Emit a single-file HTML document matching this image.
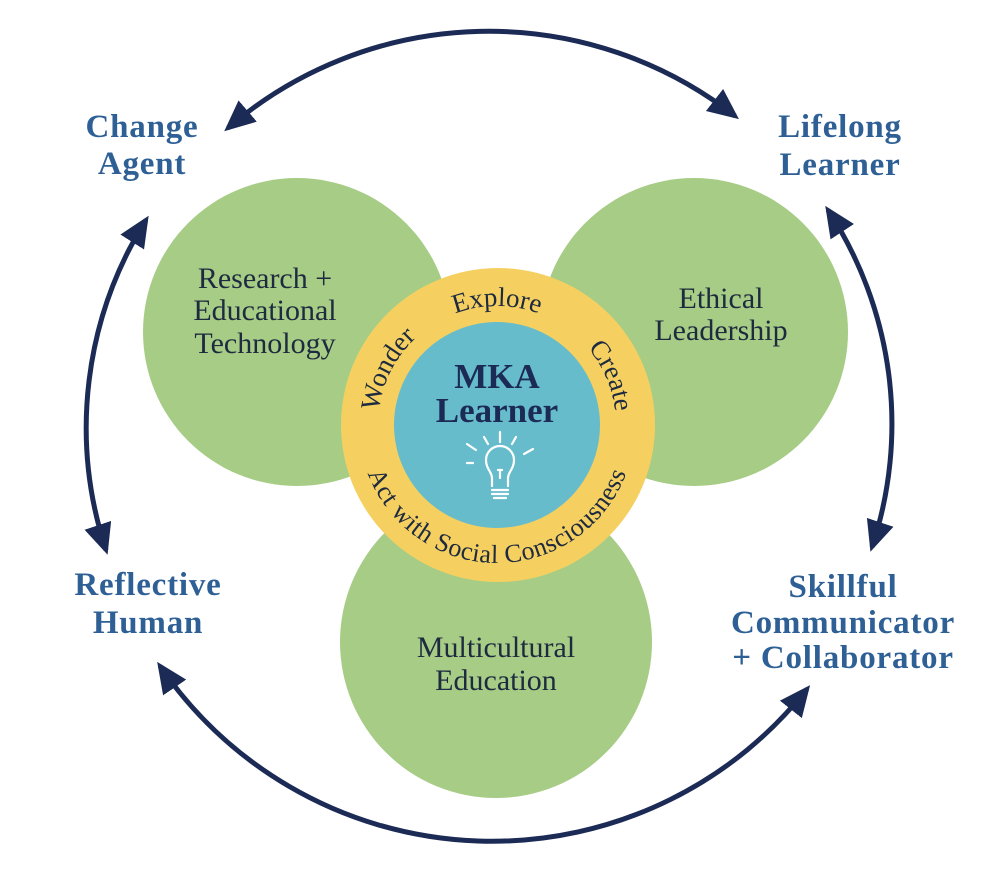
<!DOCTYPE html>
<html><head><meta charset="utf-8"><style>
html,body{margin:0;padding:0;background:#fff;}
svg{display:block;}
</style></head><body>
<svg width="988" height="870" viewBox="0 0 988 870" xmlns="http://www.w3.org/2000/svg">
<defs>
<marker id="ah" markerUnits="userSpaceOnUse" markerWidth="32" markerHeight="30" refX="26" refY="14" orient="auto-start-reverse">
<path d="M0,0 L31,14 L0,28 z" fill="#1c2b55"/>
</marker>
<path id="topP" d="M378,425 A119,119 0 1 1 616,425 A119,119 0 1 1 378,425"/>
<path id="botP" d="M359,425 A138,138 0 1 0 635,425 A138,138 0 1 0 359,425"/>
</defs>

<circle cx="297" cy="332" r="154" fill="#a7cc85"/>
<circle cx="694" cy="332" r="154" fill="#a7cc85"/>
<circle cx="496" cy="642" r="156" fill="#a7cc85"/>
<circle cx="498" cy="425" r="157" fill="#f5d060"/>
<circle cx="497" cy="425" r="103" fill="#67bccb"/>

<g fill="none" stroke="#1c2b55" stroke-width="5" marker-start="url(#ah)" marker-end="url(#ah)">
<path d="M228,128 A400,400 0 0 1 735,116"/>
<path d="M106,550 A390,390 0 0 1 146,220"/>
<path d="M828,210 A390,390 0 0 1 872,547"/>
<path d="M807,689 A402,402 0 0 1 160,666"/>
</g>

<g font-family="Liberation Serif, serif" font-weight="bold" font-size="33" fill="#2e6096" text-anchor="middle" letter-spacing="0.8">
<text x="142" y="137">Change</text>
<text x="142" y="174">Agent</text>
<text x="840" y="137">Lifelong</text>
<text x="840" y="175">Learner</text>
<text x="148" y="595">Reflective</text>
<text x="148" y="633">Human</text>
<text x="843" y="597">Skillful</text>
<text x="843" y="633">Communicator</text>
<text x="843" y="668">+ Collaborator</text>
</g>

<g font-family="Liberation Serif, serif" font-size="30" fill="#1d2a3f" text-anchor="middle">
<text x="265" y="288">Research +</text>
<text x="265" y="320">Educational</text>
<text x="265" y="353">Technology</text>
<text x="721" y="308">Ethical</text>
<text x="721" y="340">Leadership</text>
<text x="496" y="657">Multicultural</text>
<text x="496" y="690">Education</text>
</g>

<g font-family="Liberation Serif, serif" font-size="27" fill="#1d2a3f" text-anchor="middle">
<text><textPath href="#topP" startOffset="7.5%">Wonder</textPath></text>
<text><textPath href="#topP" startOffset="25%">Explore</textPath></text>
<text><textPath href="#topP" startOffset="43.5%">Create</textPath></text>
<text font-size="26"><textPath href="#botP" startOffset="25%" textLength="335" lengthAdjust="spacing">Act with Social Consciousness</textPath></text>
</g>

<g font-family="Liberation Serif, serif" font-weight="bold" font-size="35" fill="#1c2b55" text-anchor="middle">
<text x="497" y="388">MKA</text>
<text x="497" y="422">Learner</text>
</g>

<g fill="none" stroke="#fff" stroke-width="2.2" stroke-linecap="round">
<path d="M492,486 L492,478 C492,472 486,469 486,460 A14,14 0 1 1 514,460 C514,469 508,472 508,478 L508,486"/>
<path d="M500,478 L500,470 M498,470 L502,470"/>
<path d="M492,490 L508,490 M492,494 L508,494 M494,498 L506,498"/>
<path d="M500,432 L500,442"/>
<path d="M484,437 L488,444"/>
<path d="M467,444 L476,450"/>
<path d="M467,463 L473,463"/>
<path d="M516,437 L512,444"/>
<path d="M533,449 L524,454"/>
</g>
</svg>
</body></html>
